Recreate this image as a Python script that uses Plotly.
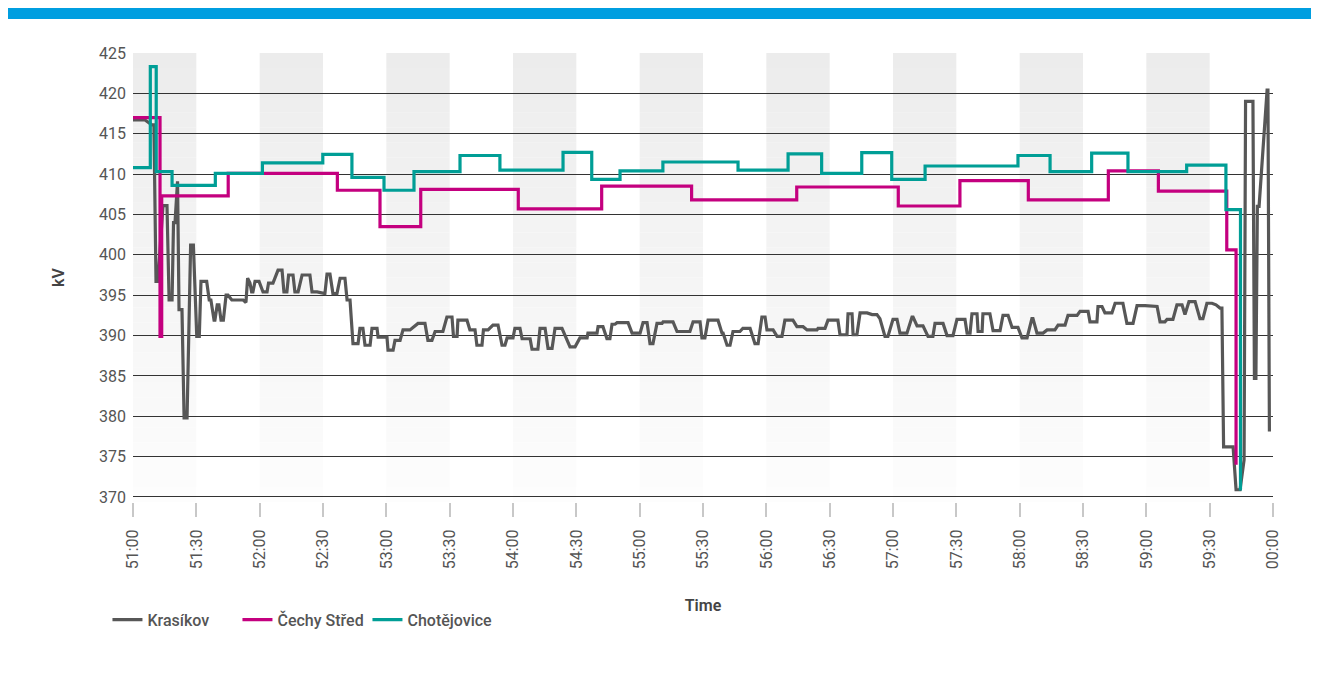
import plotly.graph_objects as go

# ---------------- data ----------------
tick_seconds = [0, 30, 60, 90, 120, 150, 180, 210, 240, 270, 300, 330, 360, 390, 420, 450, 480, 510, 540]
tick_labels = ["51:00", "51:30", "52:00", "52:30", "53:00", "53:30", "54:00", "54:30", "55:00", "55:30",
               "56:00", "56:30", "57:00", "57:30", "58:00", "58:30", "59:00", "59:30", "00:00"]
y_ticks = [370, 375, 380, 385, 390, 395, 400, 405, 410, 415, 420, 425]

series_names = ["Krasíkov", "Čechy Střed", "Chotějovice"]
series_colors = ["#575757", "#c4007f", "#009e96"]

krasikov_t = [0, 5.7, 8.9, 9.9, 10.9, 11.8, 14.2, 16.1, 17.1, 18.5, 19.2, 19.9, 21.1, 21.8, 23.2, 24.2, 25.6,
              27.3, 28.6, 30.2, 31.4, 32.2, 34.9, 36.1, 36.9, 38.4, 38.8, 39.9, 40.7, 41.7, 42.8, 44.1, 45.0,
              46.8, 52.2, 53.5, 54.3, 55.4, 56.2, 56.8, 57.8, 59.7, 61.6, 63.5, 64.2, 66.3, 68.7, 70.6, 71.5,
              72.9, 73.7, 75.8, 76.7, 78.2, 80.1, 83.8, 84.8, 87.2, 90.9, 91.9, 93.3, 94.7, 96.6, 98.1, 100.4,
              101.4, 102.8, 104.2, 106.6, 107.5, 108.9, 109.9, 112.3, 113.2, 115.6, 116.1, 120.3, 120.8, 123.2,
              124.1, 126.5, 127.9, 131.2, 135.0, 138.3, 139.7, 141.6, 143.1, 146.8, 148.7, 151.1, 151.8, 153.5,
              153.9, 158.2, 159.6, 162.0, 162.9, 165.3, 166.0, 168.2, 170.5, 172.9, 174.8, 176.2, 177.2, 180.0,
              180.9, 183.3, 184.3, 188.1, 189.0, 191.8, 192.8, 195.2, 196.6, 198.5, 199.9, 203.2, 207.0, 209.4,
              211.7, 215.1, 215.5, 219.8, 220.3, 222.6, 224.5, 225.9, 226.9, 228.3, 229.3, 234.5, 236.4, 240.2,
              241.6, 243.5, 244.9, 246.3, 248.2, 250.6, 251.1, 255.8, 257.7, 263.8, 265.3, 268.6, 269.5, 270.9,
              272.4, 277.1, 279.0, 279.5, 281.4, 282.8, 284.2, 287.5, 288.9, 292.3, 294.6, 296.1, 297.9, 299.4,
              300.3, 303.2, 305.1, 307.4, 308.8, 312.6, 314.5, 317.4, 319.3, 324.0, 324.5, 327.8, 329.2, 333.9,
              334.9, 338.2, 338.7, 340.6, 341.1, 342.9, 344.4, 347.7, 350.1, 352.4, 353.8, 356.2, 357.6, 360.0,
              361.9, 363.3, 366.6, 369.0, 369.5, 371.4, 374.2, 376.6, 378.9, 379.9, 383.7, 385.6, 388.4, 390.3,
              394.1, 395.1, 396.5, 397.4, 399.8, 400.3, 402.2, 402.6, 405.9, 407.4, 410.7, 412.1, 414.5, 416.4,
              419.2, 421.1, 423.5, 425.8, 426.3, 428.2, 431.1, 433.0, 436.7, 438.2, 441.5, 442.9, 447.2, 448.6,
              452.4, 453.3, 456.6, 457.1, 459.0, 460.4, 463.7, 465.2, 468.9, 470.8, 473.7, 475.6, 479.4, 485.1,
              486.5, 488.8, 489.8, 492.6, 494.5, 496.9, 498.3, 500.2, 503.1, 505.4, 506.8, 508.7, 511.1, 513.0,
              514.9, 515.8, 516.6, 521.1, 522.5, 524.4, 526.3, 527.0, 530.5, 531.2, 531.9, 532.6, 533.4, 537.2,
              537.6, 538.3]
krasikov_kv = [416.7, 416.7, 416.1, 416.1, 396.7, 396.7, 406.1, 406.1, 394.4, 394.4, 404.0, 404.0, 409.1, 393.2,
               393.2, 379.8, 379.8, 401.2, 401.2, 389.9, 389.9, 396.7, 396.7, 394.4, 394.4, 391.9, 391.9, 393.8,
               393.8, 391.9, 391.9, 395.0, 395.0, 394.4, 394.4, 394.1, 397.1, 396.5, 395.4, 395.4, 396.7, 396.7,
               395.4, 395.4, 396.5, 396.5, 398.1, 398.1, 395.4, 395.4, 397.5, 397.5, 395.4, 395.4, 397.5, 397.5,
               395.4, 395.4, 395.2, 397.6, 397.6, 395.2, 395.2, 397.1, 397.1, 394.4, 394.4, 389.0, 389.0, 390.9,
               390.9, 388.8, 388.8, 390.9, 390.9, 389.8, 389.8, 388.2, 388.2, 389.4, 389.4, 390.7, 390.7, 391.5,
               391.5, 389.4, 389.4, 390.5, 390.5, 392.3, 392.3, 389.9, 389.9, 391.9, 391.9, 390.7, 390.7, 388.8,
               388.8, 390.7, 390.7, 391.3, 391.3, 388.8, 388.8, 389.7, 389.7, 390.9, 390.9, 389.6, 389.6, 388.3,
               388.3, 390.9, 390.9, 388.4, 388.4, 390.9, 390.9, 388.6, 388.6, 389.7, 389.7, 390.3, 390.3, 391.1,
               391.1, 389.6, 389.6, 391.4, 391.4, 391.6, 391.6, 390.3, 390.3, 391.6, 391.6, 389.0, 389.0, 391.5,
               391.5, 391.7, 391.7, 390.5, 390.5, 391.7, 391.7, 389.7, 389.7, 391.9, 391.9, 390.3, 390.3, 388.8,
               388.8, 390.5, 390.5, 390.9, 390.9, 389.0, 389.0, 392.3, 392.3, 390.7, 390.7, 389.9, 389.9, 391.9,
               391.9, 391.1, 391.1, 390.7, 390.7, 390.9, 390.9, 391.9, 391.9, 390.1, 390.1, 392.7, 392.7, 390.1,
               390.1, 392.8, 392.8, 392.6, 392.6, 392.1, 389.9, 389.9, 392.0, 392.0, 390.3, 390.3, 392.3, 392.3,
               391.2, 391.2, 389.9, 389.9, 391.5, 391.5, 390.0, 390.0, 392.0, 392.0, 390.3, 390.3, 392.7, 392.7,
               390.5, 390.5, 392.7, 392.7, 390.6, 390.6, 392.5, 392.5, 391.0, 391.0, 389.7, 389.7, 392.1, 392.1,
               390.3, 390.3, 390.7, 390.7, 391.3, 391.3, 392.5, 392.5, 393.0, 393.0, 391.7, 391.7, 393.6, 393.6,
               392.8, 392.8, 394.0, 394.0, 391.5, 391.5, 393.7, 393.7, 393.6, 391.7, 391.7, 392.0, 392.0, 393.8,
               393.8, 392.6, 394.2, 394.2, 392.1, 392.1, 394.0, 394.0, 393.8, 393.4, 393.4, 376.2, 376.2, 370.9,
               370.9, 374.6, 419.0, 419.0, 384.7, 384.7, 406.0, 406.0, 420.4, 420.4, 378.1]

cechy_t = [0, 12.8, 13.6, 45.1, 96.8, 117.0, 136.3, 182.5, 222.0, 264.6, 314.4, 362.5, 391.7, 424.1,
           462.0, 485.7, 518.1, 522.5]
cechy_kv = [417.0, 389.9, 407.3, 410.1, 408.0, 403.5, 408.1, 405.7, 408.5, 406.8, 408.4, 406.05, 409.2,
            406.8, 410.4, 407.9, 400.6, 374.0]

choto_t = [0, 8.2, 11.0, 18.5, 39.0, 61.3, 89.9, 103.7, 118.9, 133.1, 154.9, 173.8, 203.7, 217.3, 230.7,
           251.0, 286.6, 310.3, 326.2, 345.2, 359.4, 375.2, 419.2, 434.4, 454.1, 471.3, 499.1, 517.7, 524.6,
           525.3]
choto_kv = [410.8, 423.3, 410.3, 408.6, 410.1, 411.4, 412.45, 409.6, 408.0, 410.3, 412.3, 410.5, 412.7,
            409.35, 410.4, 411.5, 410.5, 412.5, 410.1, 412.65, 409.35, 411.0, 412.3, 410.3, 412.6, 410.3,
            411.1, 405.6, 371.0, 371.0]

# ---------------- figure ----------------
FONT = "Roboto, 'Open Sans', sans-serif"
TXT = "#555555"
Y_MIN, Y_MAX = 369.38, 425.0

fig = go.Figure()
fig.add_trace(go.Scatter(x=krasikov_t, y=krasikov_kv, name=series_names[0], mode="lines",
                         line=dict(color=series_colors[0], width=3.2)))
fig.add_trace(go.Scatter(x=cechy_t, y=cechy_kv, name=series_names[1], mode="lines",
                         line=dict(color=series_colors[1], width=3.2, shape="hv")))
fig.add_trace(go.Scatter(x=choto_t, y=choto_kv, name=series_names[2], mode="lines",
                         line=dict(color=series_colors[2], width=3.2, shape="hv")))

shapes = []
# alternating shaded bands with a vertical gradient
n_slices = 30
for i in range(0, len(tick_seconds) - 1, 2):
    for k in range(n_slices):
        f0 = k / n_slices
        f1 = (k + 1) / n_slices
        c = int(round(236 + (253 - 236) * (1 - (f0 + f1) / 2)))
        shapes.append(dict(type="rect", xref="x", yref="y", layer="below",
                           x0=tick_seconds[i], x1=tick_seconds[i + 1],
                           y0=Y_MIN + (Y_MAX - Y_MIN) * f0, y1=Y_MIN + (Y_MAX - Y_MIN) * f1,
                           fillcolor=f"rgb({c},{c},{c})", line=dict(width=0)))
# top blue banner
shapes.append(dict(type="rect", xref="paper", yref="paper", layer="above",
                   x0=-0.1100, x1=1.045, y0=1.0757, y1=1.1005,
                   fillcolor="#009ee0", line=dict(width=0)))

fig.update_layout(
    width=1311, height=667,
    margin=dict(l=125, r=46, t=45, b=173),
    paper_bgcolor="white", plot_bgcolor="white",
    font=dict(family=FONT, color=TXT, size=16),
    shapes=shapes,
    showlegend=True,
    legend=dict(orientation="h", x=-0.0224, y=-0.262, xanchor="left", yanchor="middle",
                font=dict(family=FONT, size=16, color=TXT, weight=500),
                bgcolor="rgba(0,0,0,0)", itemwidth=30, tracegroupgap=0,
                entrywidth=85, entrywidthmode="pixels"),
    xaxis=dict(range=[0, 540], tickmode="array", tickvals=tick_seconds, ticktext=tick_labels,
               tickangle=-90, ticks="outside", ticklen=14, tickwidth=1.5, tickcolor="#c8c8c8",
               showgrid=False, zeroline=False, showline=False, ticklabelstandoff=6,
               tickfont=dict(family=FONT, size=16, color=TXT),
               title=dict(text="Time", standoff=31,
                          font=dict(family=FONT, size=16, color="#444444", weight=600))),
    yaxis=dict(range=[Y_MIN, Y_MAX], tickmode="array", tickvals=y_ticks,
               showgrid=True, gridcolor="#333333", gridwidth=1, zeroline=False, showline=False,
               ticks="", ticklabelstandoff=6, tickfont=dict(family=FONT, size=16, color=TXT),
               title=dict(text="kV", standoff=30,
                          font=dict(family=FONT, size=16, color="#444444", weight=600))),
)

fig.write_html("out.html")
